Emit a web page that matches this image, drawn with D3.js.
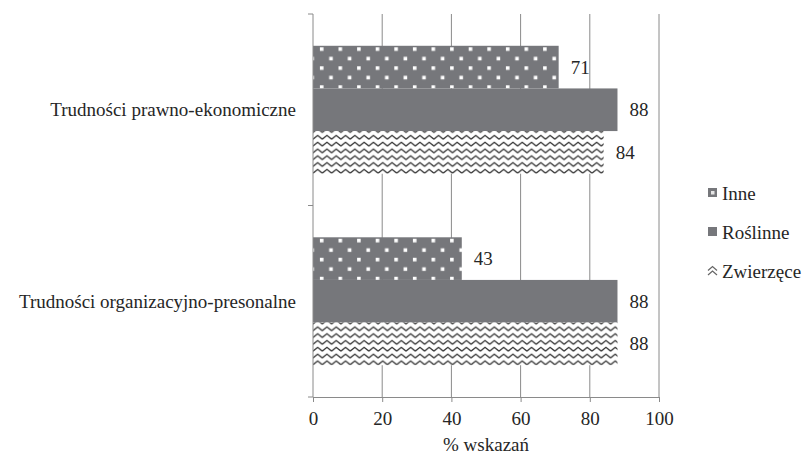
<!DOCTYPE html>
<html>
<head>
<meta charset="utf-8">
<script src="https://cdn.jsdelivr.net/npm/d3@7/dist/d3.min.js"></script>
<style>
  #chart text { font-family: "Times New Roman", "Tinos", "Liberation Serif" !important; }
</style>
</head>
<body style="margin:0">
<svg id="chart" width="805" height="457"></svg>
<script>
// Survey results: share of indications (%) per difficulty type and collection kind
const categories = ["Trudności prawno-ekonomiczne", "Trudności organizacyjno-presonalne"];
const seriesNames = ["Inne", "Roślinne", "Zwierzęce"];
const inne = [71, 43];
const roslinne = [88, 88];
const zwierzece = [84, 88];
const xTicks = [0, 20, 40, 60, 80, 100];
const xTitle = "% wskazań";

const seriesValues = { "Inne": inne, "Roślinne": roslinne, "Zwierzęce": zwierzece };
const fills = { "Inne": "url(#dots)", "Roślinne": "#76777b", "Zwierzęce": "url(#zigzag)" };

const FONT = "Times New Roman";
const TEXT_COLOR = "#262626";
const FONT_SIZE = 19;
const svg = d3.select("#chart");
const gridColor = "#8a8a8a";
const barGray = "#76777b";

function styleText(sel) {
  return sel.attr("font-family", `'${FONT}'`).attr("font-size", FONT_SIZE).attr("fill", TEXT_COLOR);
}

// Fill patterns
const defs = svg.append("defs");
const dots = defs.append("pattern")
  .attr("id", "dots").attr("patternUnits", "userSpaceOnUse")
  .attr("x", 3.7).attr("y", 1.5).attr("width", 18.6).attr("height", 19);
dots.append("rect").attr("width", 18.6).attr("height", 19).attr("fill", barGray);
dots.append("rect").attr("x", 0).attr("y", 0).attr("width", 3.6).attr("height", 3.6).attr("fill", "#fff");
dots.append("rect").attr("x", 9.3).attr("y", 9.5).attr("width", 3.6).attr("height", 3.6).attr("fill", "#fff");

const zig = defs.append("pattern")
  .attr("id", "zigzag").attr("patternUnits", "userSpaceOnUse")
  .attr("x", 313).attr("y", 0).attr("width", 9.3).attr("height", 6.8);
zig.append("rect").attr("width", 9.3).attr("height", 6.8).attr("fill", "#fff");
zig.append("path").attr("d", "M0,5 L4.65,1.2 L9.3,5")
  .attr("fill", "none").attr("stroke", "#333").attr("stroke-width", 1.2);

// Scales
const x = d3.scaleLinear().domain([0, 100]).range([313, 659]);
const y = d3.scaleBand().domain(categories).range([14, 397])
  .paddingInner(0.332).paddingOuter(0.166);
const ySub = d3.scaleBand().domain(seriesNames).range([0, y.bandwidth()]);

// Vertical gridlines
svg.append("g").selectAll("line").data(xTicks.filter(d => d > 0)).join("line")
  .attr("x1", d => x(d)).attr("x2", d => x(d))
  .attr("y1", 14).attr("y2", 397)
  .attr("stroke", gridColor).attr("stroke-width", 1);

// Bars and value labels
const groups = svg.append("g").selectAll("g").data(categories).join("g")
  .attr("transform", c => `translate(0,${y(c)})`);
groups.each(function (c, ci) {
  const g = d3.select(this);
  seriesNames.forEach(s => {
    const v = seriesValues[s][ci];
    g.append("rect")
      .attr("x", x(0)).attr("y", ySub(s))
      .attr("width", x(v) - x(0)).attr("height", ySub.bandwidth())
      .attr("fill", fills[s]);
    styleText(g.append("text"))
      .attr("x", x(v) + 12).attr("y", ySub(s) + ySub.bandwidth() / 2 + 6.5)
      .text(v);
  });
});

// Category axis (left)
const bounds = [14, (y(categories[0]) + y.bandwidth() + y(categories[1])) / 2, 397];
const left = svg.append("g");
left.append("line").attr("x1", x(0)).attr("x2", x(0)).attr("y1", 14).attr("y2", 397)
  .attr("stroke", gridColor);
left.selectAll("line.tick").data(bounds).join("line").attr("class", "tick")
  .attr("x1", x(0) - 5).attr("x2", x(0)).attr("y1", d => d).attr("y2", d => d)
  .attr("stroke", gridColor);
styleText(left.selectAll("text").data(categories).join("text"))
  .attr("x", 296).attr("y", c => y(c) + y.bandwidth() / 2 + 6.5)
  .attr("text-anchor", "end")
  .text(c => c);

// Value axis (bottom)
const bottom = svg.append("g").attr("transform", "translate(0,397)")
  .call(d3.axisBottom(x).tickValues(xTicks).tickSize(5).tickSizeOuter(5).tickPadding(10));
bottom.attr("font-family", `'${FONT}'`).attr("font-size", FONT_SIZE);
bottom.select(".domain").attr("stroke", gridColor);
bottom.selectAll(".tick line").attr("stroke", gridColor);
styleText(bottom.selectAll(".tick text"));

styleText(svg.append("text"))
  .attr("x", (x(0) + x(100)) / 2).attr("y", 451)
  .attr("text-anchor", "middle")
  .text(xTitle);

// Legend
const legend = svg.append("g").attr("transform", "translate(708,0)");
const legendY = [193, 232, 271];
seriesNames.forEach((s, i) => {
  const g = legend.append("g").attr("transform", `translate(0,${legendY[i]})`);
  if (s === "Inne") {
    g.append("rect").attr("x", 0).attr("y", -5).attr("width", 9).attr("height", 9).attr("fill", barGray);
    g.append("rect").attr("x", 3).attr("y", -2).attr("width", 3.5).attr("height", 3.5).attr("fill", "#e6e6e6");
  } else if (s === "Roślinne") {
    g.append("rect").attr("x", 0).attr("y", -5).attr("width", 9).attr("height", 9).attr("fill", barGray);
  } else {
    g.append("path").attr("d", "M0,-0.5 L4.5,-4.5 L9,-0.5 M0,4 L4.5,0 L9,4")
      .attr("fill", "none").attr("stroke", "#666").attr("stroke-width", 1.2);
  }
  styleText(g.append("text")).attr("x", 14).attr("y", 6.5).text(s);
});
</script>
</body>
</html>
